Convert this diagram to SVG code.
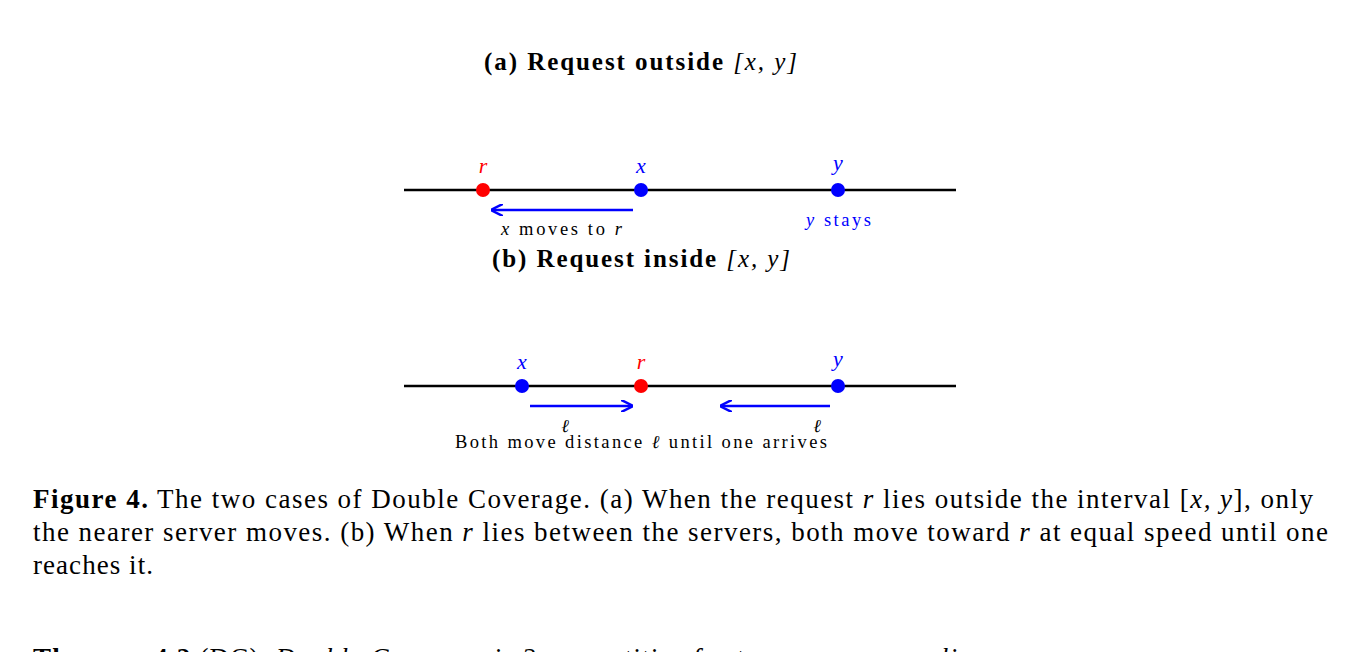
<svg xmlns="http://www.w3.org/2000/svg" width="1357" height="652" viewBox="0 0 1357 652">
<style>
text{font-family:"Liberation Serif","DejaVu Serif",serif;fill:#000}
.t{font-size:25px;font-weight:bold}
.m{font-style:italic}
.b{fill:#0000ff}.r{fill:#ff0000}
.lbl{font-size:22px;font-style:italic;text-anchor:middle}
.s{font-size:18.5px}
.cap{font-size:27px}
.ax{stroke:#000;stroke-width:2.5}
.ar{stroke:#0000ff;stroke-width:2.5;fill:none}
</style>
<defs><marker id="ah" viewBox="0 0 10 10" refX="9" refY="5" markerWidth="5" markerHeight="5" orient="auto"><path d="M0,0 L10,5 L0,10" fill="none" stroke="#0000ff" stroke-width="2"/></marker></defs>
<text class="t" x="484" y="70" textLength="313" lengthAdjust="spacing">(a) Request outside <tspan font-weight="normal" class="m">[x, y]</tspan></text>
<text class="t" x="492" y="267" textLength="298" lengthAdjust="spacing">(b) Request inside <tspan font-weight="normal" class="m">[x, y]</tspan></text>
<g id="axes"><line class="ax" x1="404" y1="190" x2="956" y2="190"/><line class="ax" x1="404" y1="386" x2="956" y2="386"/></g>
<g id="a-r"><circle cx="483" cy="190" r="7" fill="#ff0000"/><text class="lbl r" x="483" y="173">r</text></g>
<g id="a-x"><circle cx="641" cy="190" r="7" fill="#0000ff"/><text class="lbl b" x="641" y="173">x</text></g>
<g id="a-y"><circle cx="838" cy="190" r="7" fill="#0000ff"/><text class="lbl b" x="838" y="170">y</text><text class="s b" x="806" y="226" textLength="65" lengthAdjust="spacing"><tspan class="m">y</tspan> stays</text></g>
<g id="b-x"><circle cx="522" cy="386" r="7" fill="#0000ff"/><text class="lbl b" x="522" y="369">x</text></g>
<g id="b-r"><circle cx="641" cy="386" r="7" fill="#ff0000"/><text class="lbl r" x="641" y="369">r</text></g>
<g id="b-y"><circle cx="838" cy="386" r="7" fill="#0000ff"/><text class="lbl b" x="838" y="366">y</text></g>
<g id="connectors">
<line class="ar" x1="633" y1="210" x2="492" y2="210" marker-end="url(#ah)"/>
<line class="ar" x1="530" y1="406" x2="632" y2="406" marker-end="url(#ah)"/>
<line class="ar" x1="830" y1="406" x2="721" y2="406" marker-end="url(#ah)"/>
</g>
<text class="s" x="501" y="235" textLength="121" lengthAdjust="spacing"><tspan class="m">x</tspan> moves to <tspan class="m">r</tspan></text>
<text class="s m" x="565" y="432" text-anchor="middle">ℓ</text>
<text class="s m" x="817" y="432" text-anchor="middle">ℓ</text>
<text class="s" x="455" y="448" textLength="372" lengthAdjust="spacing">Both move distance <tspan class="m">ℓ</tspan> until one arrives</text>
<text class="cap" x="33" y="508" textLength="1280" lengthAdjust="spacing"><tspan font-weight="bold">Figure 4.</tspan>  The two cases of Double Coverage. (a) When the request <tspan class="m">r</tspan> lies outside the interval [<tspan class="m">x, y</tspan>], only</text>
<text class="cap" x="33" y="541" textLength="1295" lengthAdjust="spacing">the nearer server moves. (b) When <tspan class="m">r</tspan> lies between the servers, both move toward <tspan class="m">r</tspan> at equal speed until one</text>
<text class="cap" x="33" y="574" textLength="120" lengthAdjust="spacing">reaches it.</text>
<text class="cap" x="33" y="667" textLength="960" lengthAdjust="spacing"><tspan font-weight="bold">Theorem 4.2</tspan> (DC). <tspan class="m">Double Coverage is 2-competitive for two servers on a line.</tspan></text>
</svg>
